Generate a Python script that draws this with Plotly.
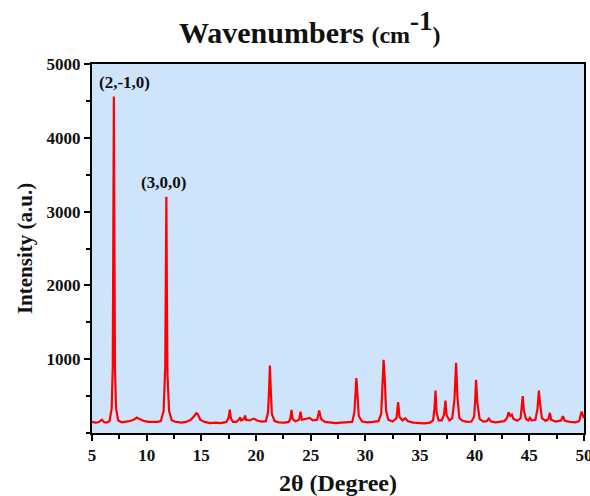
import plotly.graph_objects as go

# Powder XRD pattern: 2-theta (degrees) and intensity (a.u.)
two_theta = [
    5.0, 5.3, 5.6, 5.9, 6.1, 6.3, 6.6, 6.8, 6.9, 6.97, 7.0, 7.04, 7.1, 7.2, 7.4,
    7.7, 8.0, 8.4, 8.8, 9.1, 9.4, 9.8, 10.2, 10.6, 11.0, 11.3, 11.55, 11.7, 11.77,
    11.8, 11.84, 11.9, 12.05, 12.3, 12.7, 13.2, 13.6, 14.0, 14.3, 14.55, 14.7, 14.9,
    15.3, 15.8, 16.3, 16.8, 17.3, 17.5, 17.6, 17.7, 17.9, 18.2, 18.45, 18.55, 18.65,
    18.9, 19.0, 19.1, 19.4, 19.8, 20.1, 20.5, 20.9, 21.1, 21.2, 21.27, 21.35, 21.45,
    21.7, 22.1, 22.6, 23.0, 23.15, 23.25, 23.35, 23.6, 23.95, 24.07, 24.2, 24.5,
    24.9, 25.2, 25.6, 25.78, 25.95, 26.3, 26.8, 27.3, 27.8, 28.3, 28.8, 29.0, 29.1,
    29.18, 29.28, 29.4, 29.7, 30.2, 30.7, 31.2, 31.45, 31.57, 31.67, 31.77, 31.9,
    32.1, 32.5, 32.85, 33.0, 33.12, 33.4, 33.65, 33.9, 34.4, 34.9, 35.4, 35.9, 36.2,
    36.32, 36.42, 36.52, 36.7, 37.0, 37.2, 37.33, 37.43, 37.7, 37.95, 38.15, 38.3,
    38.42, 38.6, 38.9, 39.3, 39.7, 39.95, 40.05, 40.13, 40.24, 40.45, 40.8, 41.1,
    41.3, 41.5, 41.9, 42.3, 42.7, 42.95, 43.1, 43.25, 43.4, 43.55, 43.9, 44.2, 44.32,
    44.4, 44.5, 44.7, 44.9, 45.05, 45.2, 45.55, 45.75, 45.87, 45.98, 46.15, 46.5,
    46.75, 46.88, 47.0, 47.4, 47.9, 48.07, 48.25, 48.7, 49.2, 49.55, 49.7, 49.78,
    49.9, 50.0,
]
intensity = [
    150, 140, 145, 180, 150, 140, 160, 330, 900, 3000, 4560, 3000, 900, 330, 170,
    145, 150, 160, 180, 210, 185, 160, 150, 145, 150, 160, 300, 900, 2200,
    3200, 2200, 800, 300, 170, 150, 140, 150, 175, 220, 270, 250, 180,
    150, 135, 140, 135, 150, 210, 318, 200, 150, 150, 185, 213, 170,
    190, 236, 180, 170, 195, 170, 155, 160, 280, 600, 915, 600, 260,
    160, 145, 140, 150, 200, 313, 190, 160, 180, 290, 180, 190,
    205, 170, 180, 304, 190, 150, 140, 135, 140, 140, 150, 280, 550,
    743, 520, 230, 155, 145, 150, 160, 260, 600, 993, 750, 300,
    180, 155, 200, 417, 220, 170, 200, 160, 140, 130, 130, 140, 170,
    330, 576, 280, 170, 170, 250, 440, 240, 170, 200, 450, 952,
    500, 200, 165, 150, 155, 220, 450, 721, 420, 190, 155, 160,
    195, 155, 145, 150, 160, 200, 281, 230, 250, 190, 165, 200, 380,
    499, 300, 190, 170, 205, 170, 175, 330, 576, 400, 200, 165,
    190, 273, 180, 155, 170, 227, 165, 150, 145, 160, 250, 290,
    240, 200,
]

# Miller-index labels for the two strongest reflections
peak_labels = ["(2,-1,0)", "(3,0,0)"]
label_x = [7.95, 11.5]
label_y = [4750, 3400]

x_ticks = [5, 10, 15, 20, 25, 30, 35, 40, 45, 50]
y_ticks = [1000, 2000, 3000, 4000, 5000]

serif = "Liberation Serif, Times New Roman, serif"
ink = "#111111"

fig = go.Figure()
fig.add_trace(go.Scatter(
    x=two_theta, y=intensity, mode="lines",
    line=dict(color="#ff0000", width=2.2),
    showlegend=False,
))

for txt, lx, ly in zip(peak_labels, label_x, label_y):
    fig.add_annotation(
        x=lx, y=ly, text=txt, showarrow=False,
        font=dict(family=serif, size=17, color=ink, weight="bold"),
    )

axis_common = dict(
    showline=True, linecolor="black", linewidth=2, mirror=True,
    ticks="outside", ticklen=6, tickwidth=2, tickcolor="black",
    showgrid=False, zeroline=False, automargin=False,
    ticklabeloverflow="allow",
    tickfont=dict(family=serif, size=17, color=ink, weight="bold"),
)

fig.update_xaxes(
    range=[5, 50], tickvals=x_ticks,
    minor=dict(ticks="outside", ticklen=4, tickwidth=2, tickcolor="black", dtick=2.5, tick0=5),
    title=dict(text="2θ (Degree)", font=dict(family=serif, size=24, color=ink, weight="bold"), standoff=12),
    **axis_common,
)
fig.update_yaxes(
    range=[0, 5000], tickvals=y_ticks,
    minor=dict(ticks="outside", ticklen=4, tickwidth=2, tickcolor="black", dtick=500, tick0=0),
    title=dict(text="Intensity (a.u.)", font=dict(family=serif, size=21, color=ink, weight="bold"), standoff=8),
    **axis_common,
)

fig.update_layout(
    width=590, height=496,
    margin=dict(l=92, r=6, t=64, b=63),
    paper_bgcolor="white",
    plot_bgcolor="#cde4fb",
    title=dict(
        text="Wavenumbers <span style='font-size:24px'>(cm</span>"
             "<sup><span style='font-size:27px'>-1</span></sup>"
             "<span style='font-size:24px'>)</span>",
        x=0.525, xanchor="center", y=0.935, yanchor="middle",
        font=dict(family=serif, size=30, color=ink, weight="bold"),
    ),
)

fig.write_html("out.html")
